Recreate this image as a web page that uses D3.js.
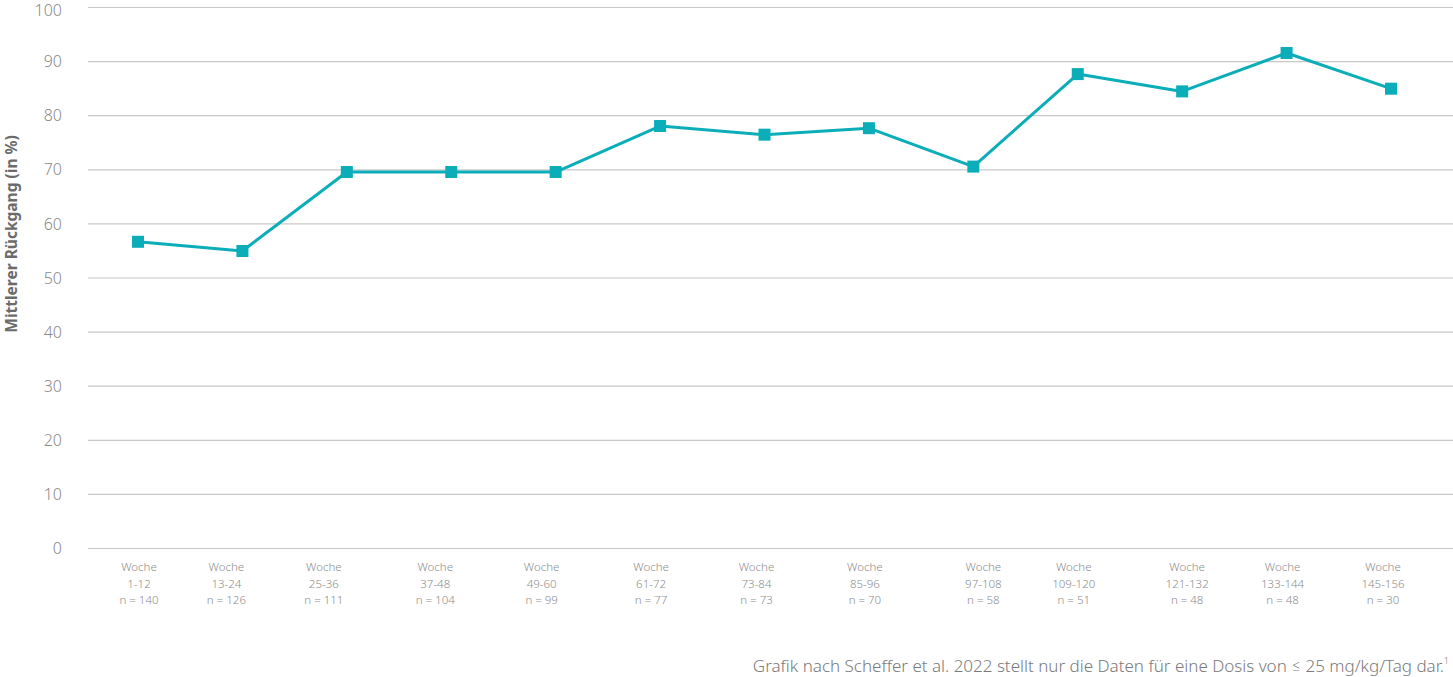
<!DOCTYPE html>
<html><head><meta charset="utf-8">
<script src="https://cdn.jsdelivr.net/npm/d3@7"></script>
<style>
html,body{margin:0;padding:0;background:#fff;}
svg{display:block;font-family:"Noto Sans",Lato,sans-serif;}
</style></head>
<body>
<svg id="chart" width="1453" height="677"></svg>
<script>
const weeks = ["1-12","13-24","25-36","37-48","49-60","61-72","73-84","85-96","97-108","109-120","121-132","133-144","145-156"];
const nValues = [140,126,111,104,99,77,73,70,58,51,48,48,30];
const decline = [56.6,54.9,69.5,69.5,69.5,78.0,76.4,77.6,70.5,87.6,84.4,91.5,84.9];
const yTicks = [0,10,20,30,40,50,60,70,80,90,100];
// layout: label horizontal offsets from the point position (px)
const labelShift = [1,-16,-23,-16,-14,-9,-8,-4,10,-4,5,-4,-8];

const svg = d3.select("#chart");
const W = 1453, H = 677;
const m = {left:88, right:0, top:7, bottom:129};
const x = d3.scalePoint().domain(weeks).range([138, 1391]);
const y = d3.scaleLinear().domain([0,100]).range([548, 7]);

// gridlines + y labels
const yAxis = d3.axisLeft(y).tickValues(yTicks).tickSize(-(W - m.left)).tickPadding(26).tickFormat(d3.format("d"));
const gy = svg.append("g").attr("transform", `translate(${m.left},0)`).call(yAxis);
gy.select(".domain").remove();
gy.selectAll(".tick line").attr("stroke", "#c8c8c8").attr("stroke-width", 1.2);
gy.selectAll(".tick text").attr("fill", "#8a8a8a").attr("font-size", 16).attr("font-weight", 300)
  .attr("dy", d => d === 100 ? "0.55em" : "0.35em").attr("font-family","'Noto Sans'");

// y title
svg.append("text")
  .attr("transform", `translate(17,234) rotate(-90)`)
  .attr("text-anchor","middle")
  .attr("fill","#6b6b6b").attr("font-size",15.5).attr("font-weight",700)
  .text("Mittlerer Rückgang (in %)");

// x labels
const xl = svg.append("g");
weeks.forEach((w,i) => {
  const t = xl.append("text").attr("text-anchor","middle")
    .attr("fill","#8c8c8c").attr("font-size",11.5).attr("font-weight",300)
    .attr("transform",`translate(${x(w)+labelShift[i]},571)`);
  t.append("tspan").attr("x",0).attr("y",0).text("Woche");
  t.append("tspan").attr("x",0).attr("y",16.5).text(w);
  t.append("tspan").attr("x",0).attr("y",33).text("n = " + nValues[i]);
});

// line
const line = d3.line().x((d,i)=>x(weeks[i])).y(d=>y(d));
svg.append("path").datum(decline)
  .attr("d", line).attr("fill","none").attr("stroke","#0badb9").attr("stroke-width",3).attr("stroke-linejoin","round");

// markers
const s = 12;
svg.append("g").selectAll("rect").data(decline).join("rect")
  .attr("x",(d,i)=>x(weeks[i]) - s/2).attr("y",d=>y(d)-s/2)
  .attr("width",s).attr("height",s).attr("fill","#0badb9");

// footnote
const fn = svg.append("text").attr("x",1449).attr("y",672).attr("text-anchor","end")
  .attr("fill","#7a7a7a").attr("font-size",17).attr("font-weight",300);
fn.append("tspan").text("Grafik nach Scheffer et al. 2022 stellt nur die Daten für eine Dosis von ≤ 25 mg/kg/Tag dar.");
fn.append("tspan").attr("font-size",9).attr("dy",-8).text("1");
</script>
</body></html>
